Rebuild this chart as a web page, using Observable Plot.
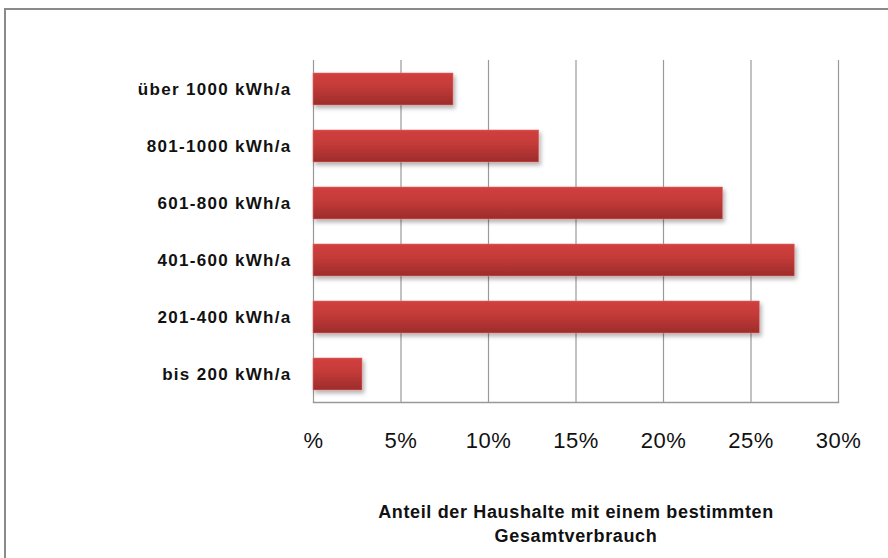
<!DOCTYPE html>
<html>
<head>
<meta charset="utf-8">
<script src="https://cdn.jsdelivr.net/npm/d3@7"></script>
<script src="https://cdn.jsdelivr.net/npm/@observablehq/plot@0.6"></script>
<style>
  html, body { margin: 0; padding: 0; background: #fff; overflow: hidden; width: 888px; height: 558px; }
  #frame { position: absolute; left: 4px; top: 8px; width: 900px; height: 600px; border: 2px solid #8a8a8a; box-sizing: border-box; }
  #chart { position: absolute; left: 0; top: 0; }
</style>
</head>
<body>
<div id="frame"></div>
<div id="chart"></div>
<script>
const categories = ["über 1000 kWh/a", "801-1000 kWh/a", "601-800 kWh/a", "401-600 kWh/a", "201-400 kWh/a", "bis 200 kWh/a"];
const shares = [8.0, 12.9, 23.4, 27.5, 25.5, 2.8];
const xTicks = [0, 5, 10, 15, 20, 25, 30];
const axisTitle = "Anteil der Haushalte mit einem bestimmten\nGesamtverbrauch";

const data = categories.map((c, i) => ({category: c, share: shares[i]}));

const defs = () => {
  const d = d3.create("svg:defs");
  const g = d.append("linearGradient").attr("id", "barGrad").attr("x1", 0).attr("y1", 0).attr("x2", 0).attr("y2", 1);
  g.append("stop").attr("offset", "0%").attr("stop-color", "#d2403e");
  g.append("stop").attr("offset", "45%").attr("stop-color", "#c23a38");
  g.append("stop").attr("offset", "100%").attr("stop-color", "#9c2c2b");
  const f = d.append("filter").attr("id", "barShadow").attr("x", "-10%").attr("y", "-30%").attr("width", "130%").attr("height", "180%");
  f.append("feDropShadow").attr("dx", 2).attr("dy", 3).attr("stdDeviation", 2).attr("flood-color", "#000").attr("flood-opacity", 0.3);
  return d.node();
};

const chart = Plot.plot({
  width: 888,
  height: 558,
  marginTop: 60,
  marginBottom: 156,
  marginLeft: 313,
  marginRight: 50,
  style: {fontFamily: "'Liberation Sans', Arial, sans-serif", background: "transparent"},
  x: {domain: [0, 30], ticks: xTicks, label: null},
  y: {domain: categories, paddingInner: 0.44, paddingOuter: 0.22, label: null},
  marks: [
    defs,
    Plot.ruleX(xTicks, {x: d => d, stroke: "#999", strokeWidth: 1.2}),
    Plot.frame({anchor: "bottom", stroke: "#999", strokeWidth: 1.5}),
    Plot.barX(data, {x: "share", y: "category", fill: "url(#barGrad)", stroke: "#e07070", strokeWidth: 0.6}),
    Plot.axisX({ticks: xTicks, tickSize: 0, tickPadding: 30, fontSize: 22, fill: "#111",
      tickFormat: d => d === 0 ? "%" : d + "%", label: null}),
    Plot.axisY({tickSize: 0, tickPadding: 22, fontSize: 17, fontWeight: "bold", fill: "#111", label: null}),
    Plot.text([axisTitle], {frameAnchor: "bottom", lineAnchor: "top", dy: 99, fontSize: 18,
      fontWeight: "bold", fill: "#111", lineHeight: 1.3})
  ]
});

const svg = d3.select(chart);
document.getElementById("chart").appendChild(chart);
svg.selectAll("rect").attr("filter", "url(#barShadow)");
svg.selectAll('g[aria-label="y-axis tick label"] text').style("letter-spacing", "1.3px");
svg.selectAll('g[aria-label="text"] text').style("letter-spacing", "0.65px");
svg.selectAll('g[aria-label="x-axis tick label"] text').style("letter-spacing", "0.5px");
</script>
</body>
</html>
